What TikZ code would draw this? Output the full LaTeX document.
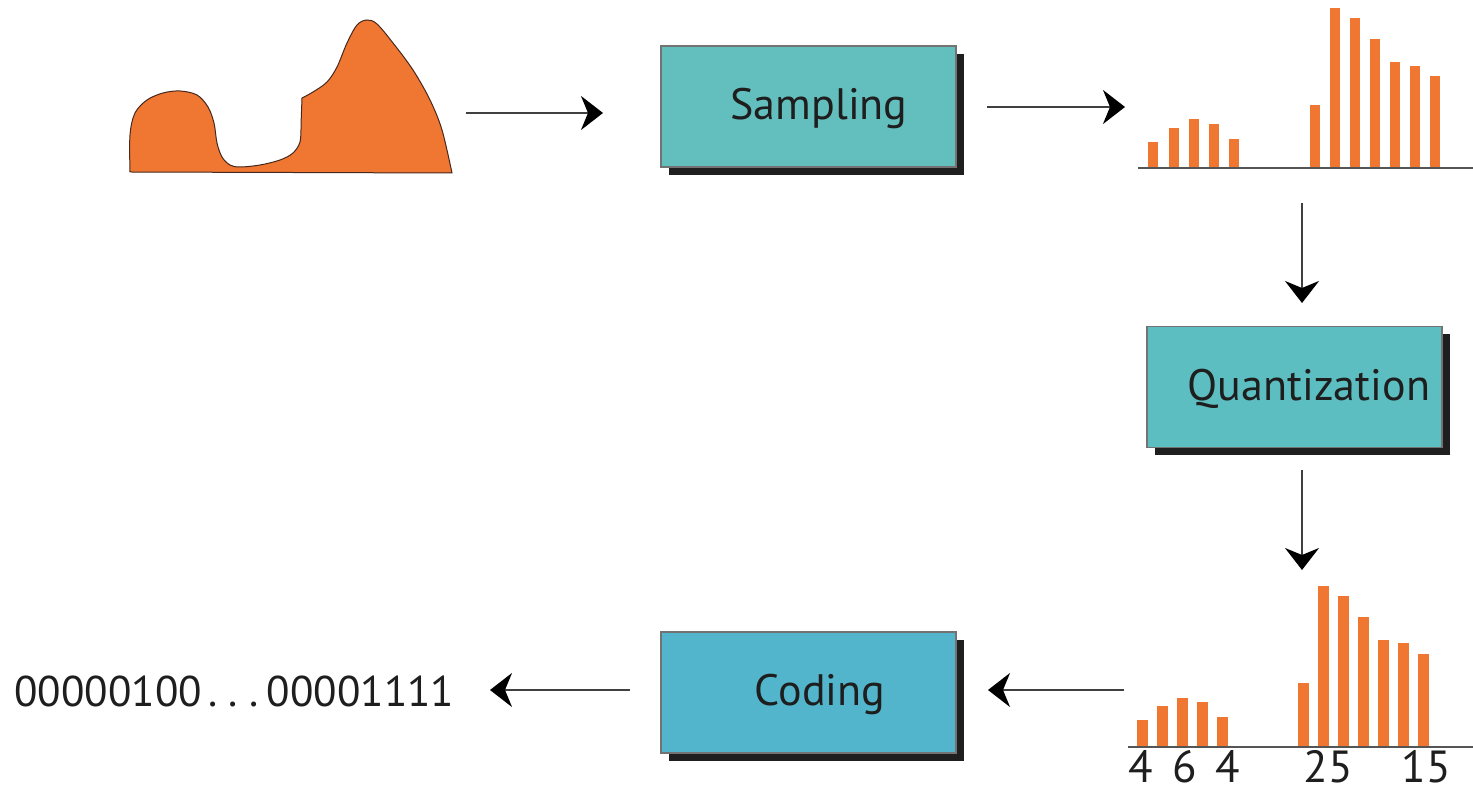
\documentclass[tikz,border=0pt]{standalone}
\usepackage{fontspec}
\setmainfont{PT Sans}
\usetikzlibrary{arrows.meta,shadows}

\definecolor{waveorange}{RGB}{240,119,50}
\definecolor{waveedge}{RGB}{70,40,30}
\definecolor{sampfill}{RGB}{99,191,190}
\definecolor{quantfill}{RGB}{92,190,192}
\definecolor{codefill}{RGB}{82,181,203}
\definecolor{ink}{RGB}{30,30,30}
\definecolor{axisgray}{RGB}{85,85,85}

\tikzset{
  stagebox/.style={draw=black!55, line width=0.6pt, minimum width=147.5pt,
    minimum height=60.5pt, inner sep=0pt,
    drop shadow={shadow xshift=4pt, shadow yshift=-4pt, fill=black!88, opacity=1}},
  stagetext/.style={anchor=base, text=ink, inner sep=0pt,
    font=\fontsize{22pt}{26pt}\selectfont},
  numtext/.style={anchor=base, text=ink, inner sep=0pt,
    font=\fontsize{22.5pt}{26pt}\selectfont},
  bitstext/.style={anchor=base west, text=ink, inner sep=0pt,
    font=\fontsize{21.5pt}{26pt}\selectfont},
  flow/.style={draw=black!75, line width=1pt,
    -{Stealth[length=11pt, width=17pt, inset=3.5pt, color=black]}},
  bar/.style={fill=waveorange},
  axis/.style={draw=axisgray, line width=1pt},
}

\newcommand{\spaceddots}{\hspace{0.15em}.\hspace{0.26em}.\hspace{0.26em}.\hspace{0.2em}}

\begin{document}
\begin{tikzpicture}[x=0.5pt, y=-0.5pt]
  \useasboundingbox (0,0) rectangle (1473,790);

  % analog signal
  \draw[fill=waveorange, draw=waveedge, line width=0.5pt]
    (130,172) -- plot[smooth, tension=0.55] coordinates {
      (130,172) (130,135) (135,113) (147,100) (163,93) (180,91) (197,95)
      (208,107) (214,123) (217,143) (222,157) (230,165) (240,167) (260,165)
      (280,160) (293,153) (300,142) (301,125)}
    -- (302,98)
    -- plot[smooth, tension=0.55] coordinates {
      (302,98) (313,92) (327,82) (337,67) (347,43) (357,25) (367,20) (377,24)
      (393,43) (413,70) (430,100) (442,130) (452,173)}
    -- cycle;

  % processing stages
  \node[stagebox, fill=sampfill]  (samp)  at (808.5,106.5) {};
  \node[stagebox, fill=quantfill] (quant) at (1294.5,387) {};
  \node[stagebox, fill=codefill]  (code)  at (808.5,692.5) {};
  \node[stagetext] (samplbl)  at (819,120)  {Sampling};
  \node[stagetext] (quantlbl) at (1309,401) {Quantization};
  \node[stagetext] (codelbl)  at (820,705)  {Coding};

  % sampled values
  \foreach \x/\t in {1148/142, 1169/128, 1189/119, 1209/124, 1229/139,
                     1310/105, 1330/8, 1350/18, 1370/39, 1390/62, 1410/66, 1430/76}
    \fill[bar] (\x,168) rectangle (\x+10,\t);
  \draw[axis] (1138,168) -- (1473,168);

  % quantized values
  \foreach \x/\t in {1137/720, 1157/706, 1177/698, 1197/702, 1217/717,
                     1298/683, 1318/586, 1338/596, 1358/617, 1378/640, 1398/643, 1418/654}
    \fill[bar] (\x,747) rectangle (\x+10.5,\t);
  \draw[axis] (1128,747) -- (1473,747);
  \node[numtext] (q1) at (1141,783) {4};
  \node[numtext] (q2) at (1185,783) {6};
  \node[numtext] (q3) at (1228,783) {4};
  \node[numtext] (q4) at (1328,783) {25};
  \node[numtext] (q5) at (1426,783) {15};

  % coded bit stream
  \node[bitstext] (bits) at (14,706) {00000100\spaceddots 00001111};

  % connector end points
  \coordinate (waveout)  at (466,113);
  \coordinate (sampin)   at (603,113);
  \coordinate (sampout)  at (987,107);
  \coordinate (sampled)  at (1125,107);
  \coordinate (samptop)  at (1302,203);
  \coordinate (quantin)  at (1302,303);
  \coordinate (quantout) at (1302,470);
  \coordinate (quanted)  at (1302,570);
  \coordinate (codesrc)  at (1124,690);
  \coordinate (codein)   at (988,690);
  \coordinate (codeout)  at (630,690);
  \coordinate (bitsin)   at (490,690);

  \draw[flow] (waveout) -- (sampin);
  \draw[flow] (sampout) -- (sampled);
  \draw[flow] (samptop) -- (quantin);
  \draw[flow] (quantout) -- (quanted);
  \draw[flow] (codesrc) -- (codein);
  \draw[flow] (codeout) -- (bitsin);
\end{tikzpicture}
\end{document}
